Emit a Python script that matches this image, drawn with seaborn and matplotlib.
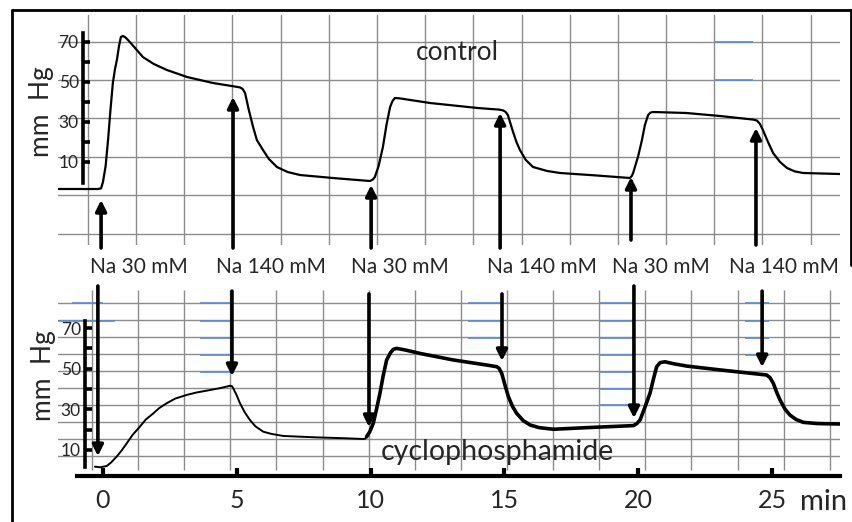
import numpy as np
import pandas as pd
import matplotlib
matplotlib.use("Agg")
import matplotlib.pyplot as plt
from matplotlib.lines import Line2D
import seaborn as sns

# ---------------- data (time in min, pressure in mm Hg) ----------------
control_t = [-1.68, -0.19, -0.07, 0.0, 0.10, 0.19, 0.28, 0.37, 0.45, 0.52, 0.60, 0.67, 0.74,
             0.82, 0.90, 1.05, 1.20, 1.49, 1.90, 2.39, 3.14, 4.11, 4.90, 5.12, 5.22, 5.31,
             5.45, 5.61, 5.75, 5.98, 6.20, 6.50, 6.90, 7.36, 8.59, 9.50, 9.98, 10.08, 10.16,
             10.30, 10.46, 10.60, 10.73, 10.82, 10.91, 11.10, 12.22, 14.00, 14.80, 14.95,
             15.05, 15.13, 15.30, 15.45, 15.58, 15.80, 16.07, 16.60, 17.08, 18.40, 19.69,
             19.76, 19.81, 20.00, 20.14, 20.25, 20.37, 20.46, 20.55, 21.80, 23.06, 24.30,
             24.44, 24.55, 24.66, 24.85, 25.04, 25.30, 25.56, 25.85, 26.16, 27.54]
control_p = [-3.5, -3.5, -3.2, 0.0, 8.0, 21.0, 36.0, 49.5, 56.5, 61.0, 68.0, 72.5, 73.0,
             72.5, 71.5, 69.3, 67.0, 62.5, 59.0, 56.0, 52.5, 49.5, 47.8, 47.3, 46.5, 44.5,
             36.0, 27.5, 21.0, 16.0, 11.5, 7.5, 5.0, 3.5, 2.0, 1.0, 0.5, 1.2, 2.5,
             8.0, 17.5, 29.0, 37.5, 40.5, 42.0, 41.8, 39.5, 37.0, 36.2, 35.8,
             35.0, 33.5, 26.0, 20.0, 16.0, 11.0, 7.5, 5.5, 4.5, 3.3, 2.0,
             3.0, 4.5, 13.0, 21.0, 28.5, 33.5, 34.7, 35.0, 34.5, 33.0, 31.2,
             30.7, 29.0, 26.0, 20.0, 14.5, 10.0, 7.0, 5.3, 4.5, 4.0]

cyclo_t = [-0.30, -0.11, 0.14, 0.30, 0.51, 0.70, 0.89, 1.10, 1.38, 1.60, 1.88, 2.10, 2.38,
           2.70, 3.13, 3.50, 4.00, 4.40, 4.75, 4.82, 4.87, 5.00, 5.12, 5.30, 5.49, 5.70,
           5.99, 6.30, 6.74, 7.99, 9.00, 9.73, 9.80, 9.85, 9.97, 10.10, 10.22, 10.35,
           10.47, 10.60, 10.75, 10.85, 10.97, 11.30, 11.85, 13.09, 14.34, 14.71, 14.80,
           14.90, 15.02, 15.15, 15.30, 15.46, 15.70, 15.96, 16.30, 16.83, 18.08, 19.82,
           19.95, 20.07, 20.25, 20.44, 20.57, 20.69, 20.82, 21.00, 21.30, 21.81, 23.06,
           24.80, 24.93, 25.05, 25.17, 25.30, 25.48, 25.67, 25.90, 26.17, 26.70, 27.54]
cyclo_p = [1.8, 1.5, 2.1, 3.8, 6.7, 9.8, 13.3, 17.3, 21.5, 25.0, 28.0, 30.6, 33.0,
           35.3, 37.1, 38.3, 39.5, 40.5, 41.6, 41.4, 40.3, 36.8, 33.0, 28.5, 24.8, 21.6,
           19.0, 17.9, 16.9, 16.2, 15.8, 15.4, 15.6, 16.5, 19.0, 23.1, 30.0, 37.9,
           46.5, 54.3, 58.0, 59.5, 60.0, 59.2, 57.5, 54.3, 51.8, 51.0, 50.2,
           47.7, 42.0, 36.2, 31.5, 28.0, 24.5, 22.3, 21.0, 20.2, 21.0, 22.0,
           23.0, 24.8, 31.0, 37.9, 45.0, 51.0, 53.0, 53.4, 52.5, 51.3, 49.4,
           46.9, 45.5, 42.8, 38.5, 34.6, 30.2, 27.2, 25.0, 23.6, 23.0, 22.8]

stim_labels = ["Na 30 mM", "Na 140 mM", "Na 30 mM", "Na 140 mM", "Na 30 mM", "Na 140 mM"]
label_x_px = [139, 271, 400, 542, 661, 784]

# arrows: (time, tail, tip) for each panel
ctrl_arrow_t = [-0.07, 4.86, 10.02, 14.84, 19.73, 24.40]
ctrl_arrow_tail = [-33.0, -33.0, -33.0, -33.0, -29.0, -31.5]
ctrl_arrow_tip = [-9.0, 42.5, -1.5, 34.5, 2.5, 27.0]

cyc_arrow_t = [-0.19, 4.82, 9.94, 14.91, 19.84, 24.63]
cyc_arrow_tail = [90.7, 88.2, 86.8, 86.8, 90.7, 88.2]
cyc_arrow_tip = [7.0, 46.4, 21.3, 53.8, 25.7, 50.8]

time_ticks = [0, 5, 10, 15, 20, 25]
p_ticks = [10, 30, 50, 70]
p_minor = [20, 40, 60]

# ---------------- style ----------------
sns.set_theme(style="white")
plt.rcParams["font.family"] = ["Lato", "DejaVu Sans"]

W, H = 853, 522
fig = plt.figure(figsize=(W / 100, H / 100), dpi=100)
fig.patch.set_facecolor("white")

def fx(px):
    return px / W

def fy(py):
    return 1 - py / H

XLIM = (-1.68, 27.54)
ax_t = fig.add_axes([fx(58), fy(245), (840 - 58) / W, 230 / H])
ax_b = fig.add_axes([fx(58), fy(476), (840 - 58) / W, 190 / H])
for ax in (ax_t, ax_b):
    ax.set_facecolor("none")
    ax.set_xlim(*XLIM)
ax_t.set_ylim(-31.5, 83.5)
ax_b.set_ylim(-2.8, 90.7)

GRID = "#8c8c8c"
BLUE = "#5b8bd6"

# grids (chart paper)
for v in [70, 51, 32, 12.5, -6.5, -26]:
    ax_t.axhline(v, color=GRID, lw=1.0, zorder=0)
for t in np.arange(-0.56, 27.0, 1.8):
    ax_t.axvline(t, color=GRID, lw=1.0, zorder=0)
ax_t.hlines([70, 51], 22.87, 24.29, color=BLUE, lw=1.2, zorder=1)

for v in np.arange(7.0, 85, 8.37):
    ax_b.axhline(v, color=GRID, lw=1.0, zorder=0)
for t in np.arange(-0.41, 27.5, 1.723):
    ax_b.vlines(t, 0, 88.5, color=GRID, lw=1.0, zorder=0)
ax_b.hlines([82.3, 73.5], [-1.15, -1.68], [0.0, 0.45], color=BLUE, lw=1.2, zorder=1)
ax_b.hlines([82.3, 73.5, 65.1, 56.7, 48.4], 3.62, 4.82, color=BLUE, lw=1.2, zorder=1)
ax_b.hlines([82.3, 73.5, 65.1], 13.64, 14.84, color=BLUE, lw=1.2, zorder=1)
ax_b.hlines([82.3, 73.5, 65.1, 56.7, 48.4, 40.0, 32.1], 18.57, 19.8, color=BLUE, lw=1.2, zorder=1)
ax_b.hlines([82.3, 73.5, 65.1, 56.7], 24.0, 24.9, color=BLUE, lw=1.2, zorder=1)

# traces
df_c = pd.DataFrame({"t": control_t, "p": control_p})
df_y = pd.DataFrame({"t": cyclo_t, "p": cyclo_p})
kw = dict(estimator=None, sort=False, zorder=3, solid_joinstyle="round",
          solid_capstyle="round")
sns.lineplot(data=df_c, x="t", y="p", ax=ax_t, color="black", lw=1.6, **kw)
sns.lineplot(data=df_y[df_y.t <= 9.85], x="t", y="p", ax=ax_b, color="black", lw=1.4, **kw)
sns.lineplot(data=df_y[df_y.t >= 9.85], x="t", y="p", ax=ax_b, color="black", lw=2.6, **kw)
for ax in (ax_t, ax_b):
    ax.set_xlabel("")
    ax.set_ylabel("")

# arrows
ap = dict(arrowstyle="-|>", lw=2.6, color="black", mutation_scale=16,
          shrinkA=0, shrinkB=0)
for t, a, b in zip(ctrl_arrow_t, ctrl_arrow_tail, ctrl_arrow_tip):
    ax_t.annotate("", xy=(t, b), xytext=(t, a), arrowprops=ap, annotation_clip=False, zorder=4)
for t, a, b in zip(cyc_arrow_t, cyc_arrow_tail, cyc_arrow_tip):
    ax_b.annotate("", xy=(t, b), xytext=(t, a), arrowprops=ap, annotation_clip=False, zorder=4)

# axes / spines
for ax in (ax_t, ax_b):
    for s in ax.spines.values():
        s.set_visible(False)
    ax.spines["left"].set_visible(True)
    ax.spines["left"].set_color("black")
    ax.spines["left"].set_linewidth(2.6)
    ax.set_yticks(p_ticks)
    ax.set_yticks(p_minor, minor=True)
    ax.set_yticklabels([str(v) for v in p_ticks])
    ax.tick_params(axis="y", which="both", direction="in", length=5, width=2.6,
                   color="black", labelsize=12.5, pad=3, left=True)
ax_t.spines["left"].set_position(("data", -0.75))
ax_t.spines["left"].set_bounds(-0.5, 74.5)
ax_b.spines["left"].set_position(("data", -0.67))
ax_b.spines["left"].set_bounds(1.6, 73.5)

ax_t.set_xticks([])
ax_b.spines["bottom"].set_visible(True)
ax_b.spines["bottom"].set_color("black")
ax_b.spines["bottom"].set_linewidth(3)
ax_b.spines["bottom"].set_bounds(-0.97, 27.54)
ax_b.set_xticks(time_ticks)
ax_b.set_xticklabels([str(v) for v in time_ticks])
ax_b.tick_params(axis="x", direction="in", length=6, width=3, color="black",
                 labelsize=18, pad=9, bottom=True)

# texts
fig.text(fx(824), fy(510), "min", fontsize=21, ha="center", va="baseline")
for lab, px in zip(stim_labels, label_x_px):
    fig.text(fx(px), fy(267), lab, fontsize=15, ha="center", va="center")
fig.text(fx(457), fy(52), "control", fontsize=19, ha="center", va="center")
fig.text(fx(497), fy(452), "cyclophosphamide", fontsize=20.5, ha="center", va="center")
fig.text(fx(42), fy(112), "mm  Hg", fontsize=19, rotation=90, ha="center", va="center")
fig.text(fx(43), fy(376), "mm  Hg", fontsize=19, rotation=90, ha="center", va="center")

# scanned frame
fig.add_artist(Line2D([fx(12.5), fx(12.5)], [fy(10), fy(522)], color="black", lw=2))
fig.add_artist(Line2D([fx(12.5), fx(851)], [fy(10), fy(10)], color="black", lw=2))
fig.add_artist(Line2D([fx(851), fx(851)], [fy(10), fy(265)], color="black", lw=2))

fig.savefig("out.png", dpi=100)
